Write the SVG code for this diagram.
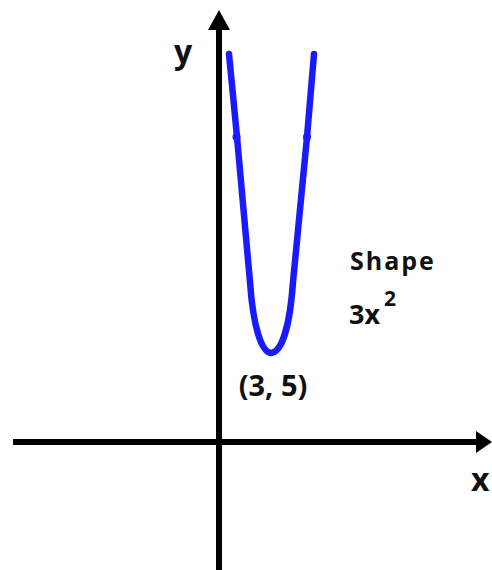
<svg xmlns="http://www.w3.org/2000/svg" width="492" height="570" viewBox="0 0 492 570">
<style>
.axis{stroke:#000;stroke-width:6;fill:none}
.head{fill:#000}
.curve{stroke:#1a1aff;stroke-width:6.5;fill:none;stroke-linecap:round;stroke-linejoin:round}
.t{font-family:"Open Sans","Liberation Sans",sans-serif;font-weight:bold;fill:#111}
</style>
<rect width="492" height="570" fill="#fff"/>
<g id="connectors">
<line class="axis" x1="219" y1="28" x2="219" y2="570"/>
<polygon class="head" points="219,10 208,30 230,30"/>
<line class="axis" x1="13" y1="442" x2="478" y2="442"/>
<polygon class="head" points="492,442 476,431 476,453"/>
</g>
<g id="parabola">
<path class="curve" d="M229,54 L237,137 L250,282 C253,325 261,352 271,353 C282,352 290,325 293,282 L307,137 L314,54"/>
<circle cx="236.5" cy="137" r="4" fill="#1a1aff"/>
<circle cx="307" cy="137" r="4" fill="#1a1aff"/>
</g>
<g id="labels">
<text class="t" x="174" y="63" font-size="32">y</text>
<text class="t" x="471" y="491" font-size="32">x</text>
<text class="t" x="350" y="270" font-size="25" letter-spacing="2">Shape</text>
<text class="t" x="349" y="324" font-size="27">3x</text>
<text class="t" x="384" y="306" font-size="21">2</text>
<text class="t" x="273" y="396" font-size="29" text-anchor="middle">(3, 5)</text>
</g>
</svg>
